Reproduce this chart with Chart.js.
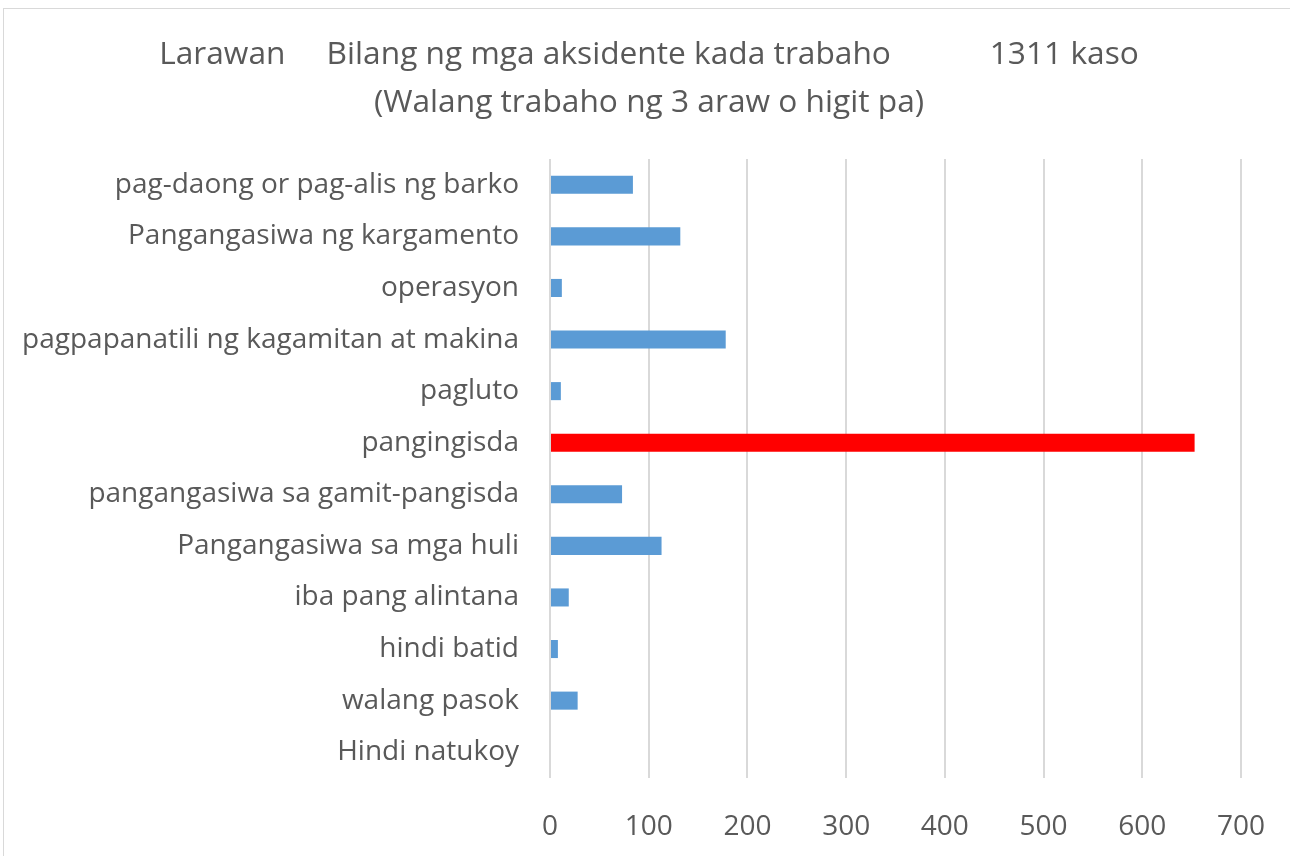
<!DOCTYPE html>
<html><head><meta charset="utf-8">
<script src="https://cdn.jsdelivr.net/npm/chart.js@4/dist/chart.umd.min.js"></script>
<style>
html,body{margin:0;padding:0;background:#fff;}
#wrap{position:relative;width:1290px;height:856px;overflow:hidden;}
#frame{position:absolute;left:3px;top:8px;width:1290px;height:900px;border:1px solid #d9d9d9;box-sizing:border-box;}
canvas{position:absolute;left:0;top:0;}
</style></head>
<body><div id="wrap"><div id="frame"></div><canvas id="c" width="1290" height="856"></canvas></div>
<script>
const titleLines = ["Larawan\u00A0\u00A0\u00A0\u00A0\u00A0Bilang ng mga aksidente kada trabaho\u00A0\u00A0\u00A0\u00A0\u00A0\u00A0\u00A0\u00A0\u00A0\u00A0\u00A0\u00A01311 kaso", "(Walang trabaho ng 3 araw o higit pa)"];
const categories = ["pag-daong or pag-alis ng barko","Pangangasiwa ng kargamento","operasyon","pagpapanatili ng kagamitan at makina","pagluto","pangingisda","pangangasiwa sa gamit-pangisda","Pangangasiwa sa mga huli","iba pang alintana","hindi batid","walang pasok","Hindi natukoy"];
const cases = [84,132,12,178,11,653,73,113,19,8,28,0];
const highlight = ["pangingisda"];
const xTicks = [0,100,200,300,400,500,600,700];
const FONT = "'Open Sans',sans-serif";
const txt = '#595959';
const titlePlugin = {
  id: 'manualTitle',
  afterDraw(chart) {
    const ctx = chart.ctx;
    ctx.save();
    ctx.fillStyle = txt;
    ctx.font = "31.7px " + FONT;
    ctx.textAlign = 'center';
    ctx.textBaseline = 'middle';
    ctx.fillText(titleLines[0], 649, 55);
    ctx.fillText(titleLines[1], 649, 103);
    ctx.restore();
  }
};
new Chart(document.getElementById('c'), {
  type: 'bar',
  data: { labels: categories, datasets: [{ data: cases,
    backgroundColor: categories.map(c => highlight.includes(c) ? '#FF0000' : '#5B9BD5'),
    barPercentage: 0.7, categoryPercentage: 0.5 }] },
  options: {
    indexAxis: 'y', responsive: false, animation: false,
    layout: { padding: { left: 0, right: 49, top: 159, bottom: 0 } },
    plugins: { legend: { display: false }, tooltip: { enabled: false }, title: { display: false } },
    scales: {
      x: { min: 0, max: 700, afterBuildTicks: s => { s.ticks = xTicks.map(v => ({ value: v })); },
        grid: { color: '#d9d9d9', lineWidth: 2, drawTicks: false },
        border: { display: false },
        ticks: { color: txt, padding: 32, font: { family: FONT, size: 28 } },
        afterFit: s => { s.height = 78; s.paddingRight = 0; s.paddingLeft = 0; } },
      y: { grid: { display: false, drawTicks: false }, border: { display: false },
        ticks: { color: txt, padding: 31, font: { family: FONT, size: 28 } },
        afterFit: s => { s.width = 550; s.paddingTop = 0; s.paddingBottom = 0; } }
    }
  },
  plugins: [titlePlugin]
});
</script></body></html>
